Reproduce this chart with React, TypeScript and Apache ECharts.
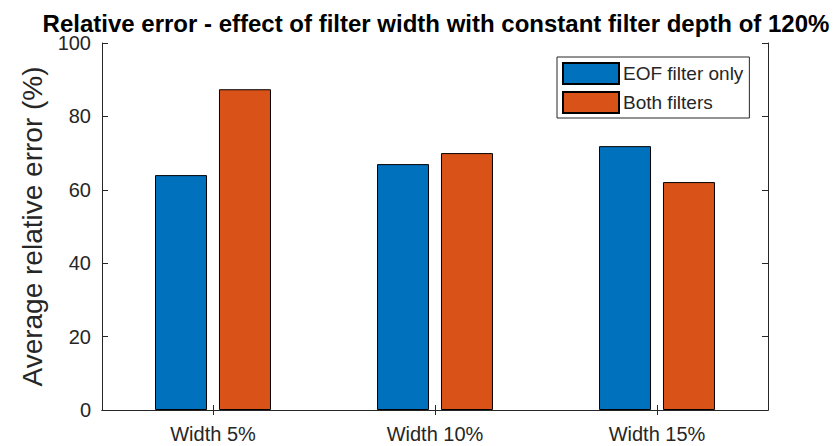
import React, { useEffect, useRef } from "react";
import * as echarts from "echarts";

const categories = ["Width 5%", "Width 10%", "Width 15%"];
const eofOnly = [64.0, 67.0, 71.9];
const bothFilters = [87.4, 70.0, 62.1];
const yTicks = { min: 0, max: 100, interval: 20 };
const titleText = "Relative error - effect of filter width with constant filter depth of 120%";
const yName = "Average relative error (%)";
const seriesNames = ["EOF filter only", "Both filters"];

const FONT = "'Liberation Sans', Arial, Helvetica, sans-serif";
const AX = "#262626";

export default function App() {
  const ref = useRef<HTMLDivElement>(null);
  useEffect(() => {
    if (!ref.current) return;
    const chart = echarts.init(ref.current, null, { renderer: "svg" });
    const axisLine = { show: true, lineStyle: { color: AX, width: 1 } };
    chart.setOption({
      animation: false,
      backgroundColor: "#ffffff",
      textStyle: { fontFamily: FONT },
      graphic: [
        {
          type: "text",
          x: 436,
          y: 23,
          style: {
            text: titleText,
            font: `bold 24px ${FONT}`,
            lineHeight: 24,
            fill: "#000000",
            align: "center",
            verticalAlign: "middle",
          },
        },
      ],
      legend: {
        left: 557,
        top: 57,
        orient: "vertical",
        data: seriesNames,
        icon: "rect",
        itemWidth: 56,
        itemHeight: 21,
        itemGap: 6,
        padding: [5, 6, 4, 5],
        borderColor: AX,
        borderWidth: 1,
        backgroundColor: "#ffffff",
        textStyle: { fontSize: 19, color: AX, fontFamily: FONT, padding: [0, 0, 0, -1] },
      },
      grid: {
        left: 102,
        right: 72,
        top: 43,
        bottom: 36,
        containLabel: false,
        outerBoundsMode: "none",
      },
      xAxis: [
        {
          type: "category",
          data: categories,
          position: "bottom",
          axisLine,
          axisTick: { show: true, inside: true, alignWithLabel: true, length: 5, lineStyle: { color: AX } },
          axisLabel: { fontSize: 20, color: AX, margin: 14, fontFamily: FONT },
        },
        {
          type: "category",
          data: categories,
          position: "top",
          axisLine,
          axisTick: { show: true, inside: true, alignWithLabel: true, length: 5, lineStyle: { color: AX } },
          axisLabel: { show: false },
        },
      ],
      yAxis: [
        {
          type: "value",
          min: yTicks.min,
          max: yTicks.max,
          interval: yTicks.interval,
          position: "left",
          name: yName,
          nameLocation: "middle",
          nameGap: 51,
          nameTextStyle: { fontSize: 28, color: AX, fontFamily: FONT },
          axisLine,
          axisTick: { show: true, inside: true, length: 6, lineStyle: { color: AX } },
          axisLabel: { fontSize: 20, lineHeight: 16, color: AX, margin: 11, fontFamily: FONT },
          splitLine: { show: false },
        },
        {
          type: "value",
          min: yTicks.min,
          max: yTicks.max,
          interval: yTicks.interval,
          position: "right",
          axisLine,
          axisTick: { show: true, inside: true, length: 6, lineStyle: { color: AX } },
          axisLabel: { show: false },
          splitLine: { show: false },
        },
      ],
      series: [
        {
          name: seriesNames[0],
          type: "bar",
          data: eofOnly,
          barWidth: 52,
          barGap: "23%",
          itemStyle: { color: "#0072BD", borderColor: "#000000", borderWidth: 1 },
        },
        {
          name: seriesNames[1],
          type: "bar",
          data: bothFilters,
          barWidth: 52,
          barGap: "23%",
          itemStyle: { color: "#D95319", borderColor: "#000000", borderWidth: 1 },
        },
      ],
    });
    return () => chart.dispose();
  }, []);
  return (
    <div
      ref={ref}
      style={{ position: "fixed", left: 0, top: 0, width: 840, height: 446 }}
    />
  );
}
